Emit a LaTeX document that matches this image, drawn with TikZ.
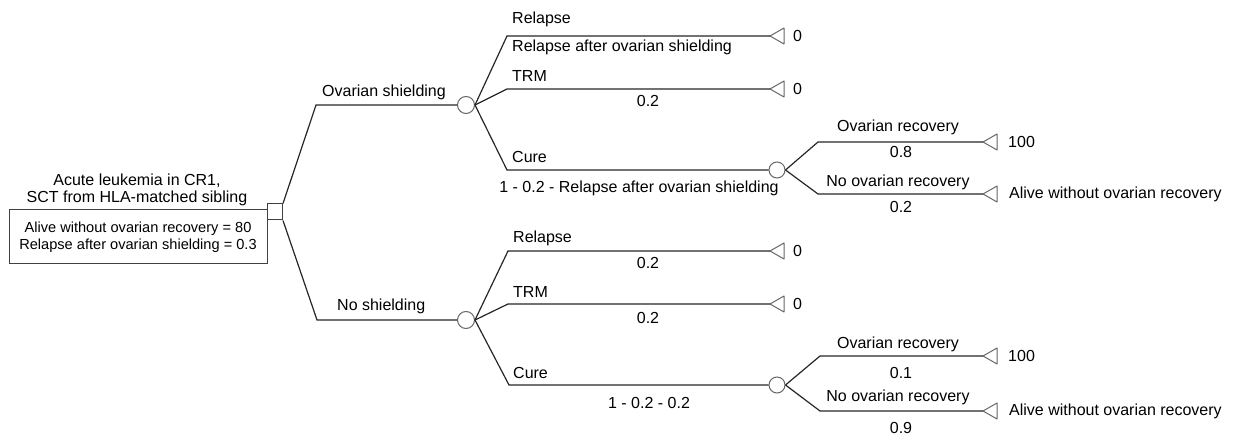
\documentclass[tikz,border=0pt]{standalone}
\usepackage{fontspec}
\setmainfont{Liberation Sans}
\begin{document}
\begin{tikzpicture}[x=1pt,y=-1pt,
  br/.style={line width=1.2pt, draw=black!85},
  chance/.style={circle, draw=black!60, line width=1pt, minimum size=17pt, inner sep=0pt},
  subchance/.style={chance, minimum size=16pt},
  term/.style={draw=black!60, line width=1pt, line join=round},
  lab/.style={font=\fontsize{16}{19}\selectfont, inner sep=0pt},
  boxtxt/.style={draw=black!75, line width=1pt, font=\fontsize{14.6}{17}\selectfont, align=center,
    minimum width=258pt, minimum height=54pt, inner sep=0pt}]
\useasboundingbox (0,0) rectangle (1242,435);

% root
\node[lab, align=center, font=\fontsize{16}{17}\selectfont] (title) at (137,190) {Acute leukemia in CR1,\\SCT from HLA-matched sibling};
\node[boxtxt] (root) at (138,237) {Alive without ovarian recovery = 80\\Relapse after ovarian shielding = 0.3};
\node[draw=black!75, line width=1pt, minimum width=15pt, minimum height=16pt, inner sep=0pt] (dec) at (275,212) {};

% chance nodes
\node[chance] (c1) at (466,105) {};
\node[chance] (c2) at (466,320) {};
\node[subchance] (c3) at (777,170) {};
\node[subchance] (c4) at (777,385) {};

% terminal coordinates
\coordinate (tA) at (770,36);
\coordinate (tB) at (770,89);
\coordinate (tC) at (983,142);
\coordinate (tD) at (983,194);
\coordinate (tE) at (770,251);
\coordinate (tF) at (770,304);
\coordinate (tG) at (983,356);
\coordinate (tH) at (983,411);
\foreach \t in {tA,tB,tC,tD,tE,tF,tG,tH}{
  \draw[term] (\t) -- ++(14,-8) -- ++(0,16) -- cycle;
}

% connectors
\draw[br] (dec.north east) -- (316,105) -- (c1.west);
\draw[br] (dec.south east) -- (317,320) -- (c2.west);

\draw[br] (c1.east) -- (507,36) -- (tA);
\draw[br] (c1.east) -- (507,89) -- (tB);
\draw[br] (c1.east) -- (507,170) -- (c3.west);
\draw[br] (c3.east) -- (818,142) -- (tC);
\draw[br] (c3.east) -- (818,194) -- (tD);

\draw[br] (c2.east) -- (508,251) -- (tE);
\draw[br] (c2.east) -- (508,304) -- (tF);
\draw[br] (c2.east) -- (509,385) -- (c4.west);
\draw[br] (c4.east) -- (820,356) -- (tG);
\draw[br] (c4.east) -- (820,411) -- (tH);

% labels: main branches
\node[lab, anchor=base west] (l1) at (322,97) {Ovarian shielding};
\node[lab, anchor=base west] (l2) at (337,311) {No shielding};

\node[lab, anchor=base west] (l3) at (512,24) {Relapse};
\node[lab, anchor=base west] (l4) at (512,52) {Relapse after ovarian shielding};
\node[lab, anchor=base west] (l5) at (512,82) {TRM};
\node[lab, anchor=base] (l6) at (648,107) {0.2};
\node[lab, anchor=base west] (l7) at (512,163) {Cure};
\node[lab, anchor=base] (l8) at (639,193) {1 - 0.2 - Relapse after ovarian shielding};

\node[lab, anchor=base] (l9) at (898,132) {Ovarian recovery};
\node[lab, anchor=base] (l10) at (901,158) {0.8};
\node[lab, anchor=base] (l11) at (898,187) {No ovarian recovery};
\node[lab, anchor=base] (l12) at (901,213) {0.2};

\node[lab, anchor=base west] (l13) at (513,243) {Relapse};
\node[lab, anchor=base] (l14) at (648,269) {0.2};
\node[lab, anchor=base west] (l15) at (513,298) {TRM};
\node[lab, anchor=base] (l16) at (648,324) {0.2};
\node[lab, anchor=base west] (l17) at (513,379) {Cure};
\node[lab, anchor=base] (l18) at (649,409) {1 - 0.2 - 0.2};

\node[lab, anchor=base] (l19) at (898,349) {Ovarian recovery};
\node[lab, anchor=base] (l20) at (901,379) {0.1};
\node[lab, anchor=base] (l21) at (898,402) {No ovarian recovery};
\node[lab, anchor=base] (l22) at (901,433) {0.9};

% payoffs
\node[lab, anchor=west] (p1) at (793,36) {0};
\node[lab, anchor=west] (p2) at (793,89) {0};
\node[lab, anchor=west] (p3) at (1008,142) {100};
\node[lab, anchor=west] (p4) at (1009,194) {Alive without ovarian recovery};
\node[lab, anchor=west] (p5) at (793,251) {0};
\node[lab, anchor=west] (p6) at (793,304) {0};
\node[lab, anchor=west] (p7) at (1008,356) {100};
\node[lab, anchor=west] (p8) at (1009,411) {Alive without ovarian recovery};
\end{tikzpicture}
\end{document}
